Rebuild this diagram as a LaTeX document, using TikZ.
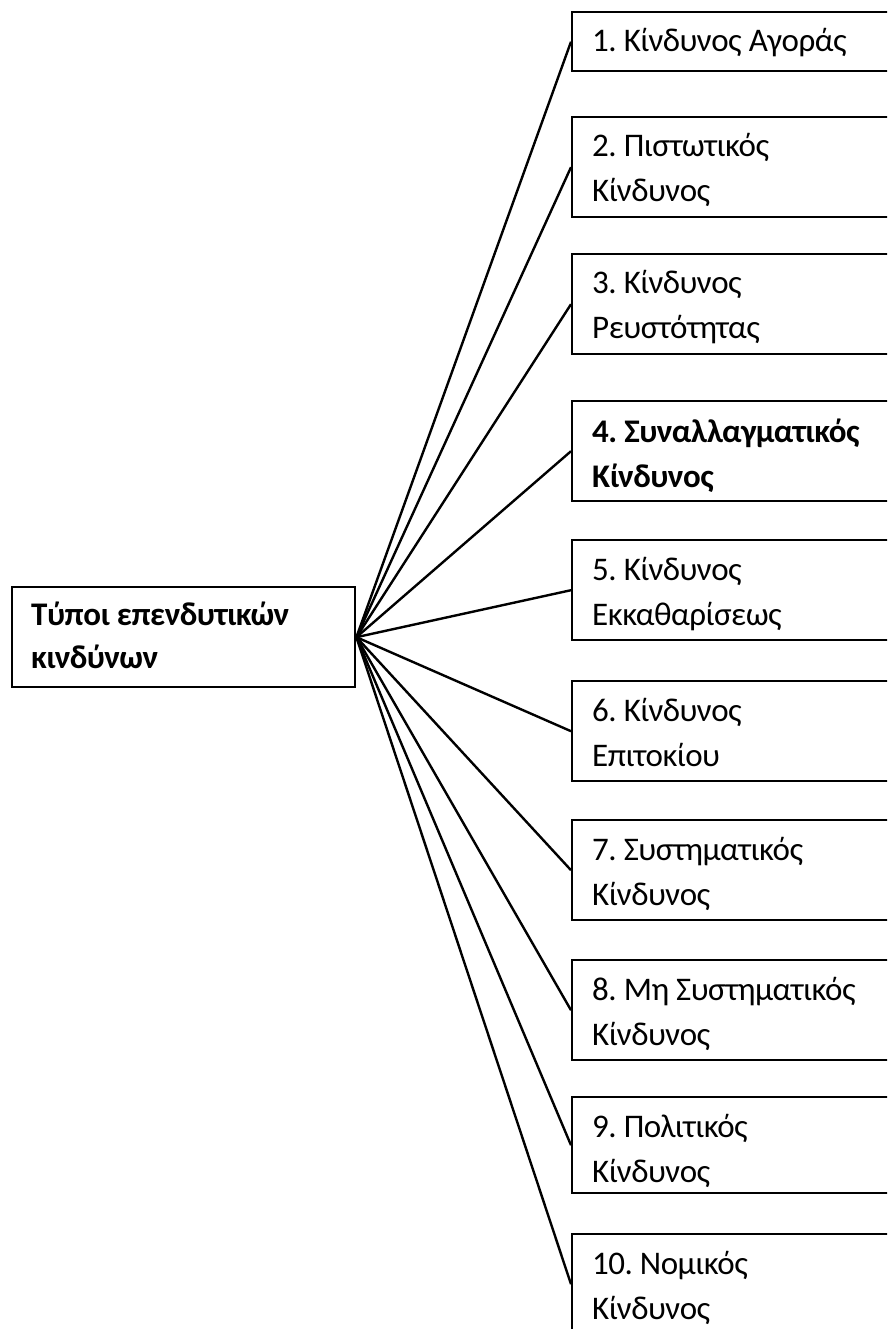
\documentclass[tikz,border=0pt]{standalone}
\usepackage{fontspec}
\setmainfont[LetterSpace=-1.5]{Carlito}
\frenchspacing
\begin{document}
\begin{tikzpicture}[x=1pt,y=-1pt,
  box/.style={draw=black, line width=2.4pt, fill=white, rectangle, anchor=north west, inner sep=0pt, minimum width=340pt, minimum height=100pt},
  lbl/.style={anchor=base west, inner sep=0pt, text width=300pt, align=left, font=\fontsize{33}{45}\selectfont, execute at begin node={\spaceskip=7pt\relax}},
  conn/.style={draw=black, line width=2.4pt}]
\useasboundingbox (0,0) rectangle (887,1329);
\clip (0,0) rectangle (887,1329);
\fill[white] (0,0) rectangle (887,1329);
% centre
\node[box, minimum width=343pt, minimum height=100pt] (c) at (11,586) {};
\node[lbl, font=\bfseries\fontsize{33}{43}\selectfont] (tc) at (31,625) {Τύποι επενδυτικών\\κινδύνων};
% boxes
\node[box, minimum height=59pt] (b1) at (571,11) {};
\node[box] (b2) at (571,116) {};
\node[box] (b3) at (571,253) {};
\node[box] (b4) at (571,400) {};
\node[box] (b5) at (571,539) {};
\node[box] (b6) at (571,680) {};
\node[box] (b7) at (571,819) {};
\node[box] (b8) at (571,959) {};
\node[box, minimum height=96pt] (b9) at (571,1096) {};
\node[box] (b10) at (571,1233) {};
% connectors
\foreach \i in {1,...,10} {\draw[conn] (c.east) -- (b\i.west);}
% labels
\node[lbl] (t1) at (592,52) {1. Κίνδυνος Αγοράς};
\node[lbl] (t2) at (592,157) {2. Πιστωτικός\\Κίνδυνος};
\node[lbl] (t3) at (592,294) {3. Κίνδυνος\\Ρευστότητας};
\node[lbl, font=\bfseries\fontsize{33}{45}\selectfont] (t4) at (592,442) {4. Συναλλαγματικός\\Κίνδυνος};
\node[lbl] (t5) at (592,580) {5. Κίνδυνος\\Εκκαθαρίσεως};
\node[lbl] (t6) at (592,721) {6. Κίνδυνος\\Επιτοκίου};
\node[lbl] (t7) at (592,860) {7. Συστηματικός\\Κίνδυνος};
\node[lbl] (t8) at (592,1000) {8. Μη Συστηματικός\\Κίνδυνος};
\node[lbl] (t9) at (592,1137) {9. Πολιτικός\\Κίνδυνος};
\node[lbl] (t10) at (592,1274) {10. Νομικός\\Κίνδυνος};
\end{tikzpicture}
\end{document}
